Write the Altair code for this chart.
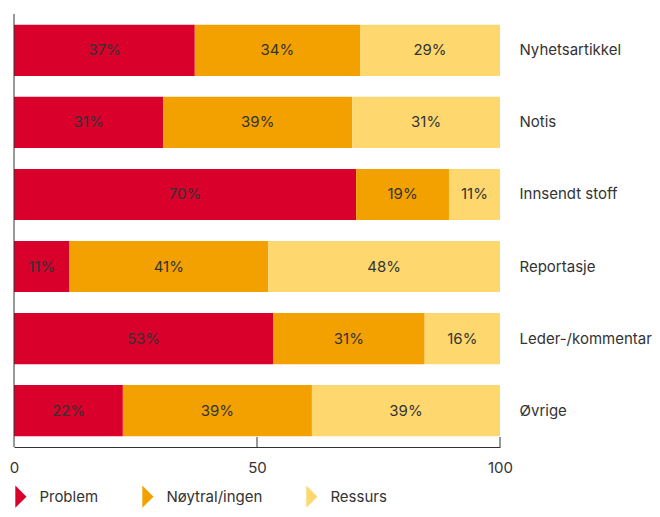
import altair as alt
import pandas as pd

categories = ["Nyhetsartikkel", "Notis", "Innsendt stoff", "Reportasje", "Leder-/kommentar", "Øvrige"]
series = ["Problem", "Nøytral/ingen", "Ressurs"]
problem = [37.2, 30.7, 70.4, 11.4, 53.3, 22.4]
noytral = [34.0, 38.9, 19.1, 40.9, 31.2, 38.9]
ressurs = [28.8, 30.4, 10.5, 47.7, 15.5, 38.7]
labels_problem = ["37%", "31%", "70%", "11%", "53%", "22%"]
labels_noytral = ["34%", "39%", "19%", "41%", "31%", "39%"]
labels_ressurs = ["29%", "31%", "11%", "48%", "16%", "39%"]
x_ticks = [0, 50, 100]
colors = ["#d9002b", "#f2a100", "#fed86f"]

FONT = "Inter"
TXT = "#333333"

rows = []
for i, cat in enumerate(categories):
    start = 0.0
    for s, vals, labs in zip(series, [problem, noytral, ressurs], [labels_problem, labels_noytral, labels_ressurs]):
        end = start + vals[i]
        rows.append({"category": cat, "series": s, "start": start, "end": end,
                     "mid": (start + end) / 2, "label": labs[i]})
        start = end
df = pd.DataFrame(rows)

W, H = 486, 433

xscale = alt.Scale(domain=[0, 100], nice=False, zero=True)
yscale = alt.Scale(paddingInner=0.29, paddingOuter=0.15)
ysort = categories

base = alt.Chart(df)

bars = base.mark_bar(strokeWidth=0).encode(
    x=alt.X("start:Q", scale=xscale,
            axis=alt.Axis(values=x_ticks, ticks=False, grid=False, title=None,
                          domainColor=TXT, domainWidth=1, labelFontSize=15,
                          labelColor=TXT, labelFont=FONT, labelPadding=13,
                          labelFlush=False)),
    x2="end:Q",
    y=alt.Y("category:N", sort=ysort, scale=yscale,
            axis=alt.Axis(orient="right", domain=False, ticks=False, title=None,
                          labelPadding=19, labelFontSize=15, labelColor=TXT,
                          labelFont=FONT, labelAlign="left")),
    color=alt.Color("series:N", scale=alt.Scale(domain=series, range=colors),
                    legend=alt.Legend(orient="none", legendX=-4.6, legendY=471,
                                      direction="horizontal", title=None,
                                      symbolType="M-0.5,-1L0.5,0L-0.5,1Z",
                                      symbolSize=500, symbolStrokeWidth=0,
                                      symbolOpacity=1,
                                      labelFontSize=15, labelColor=TXT,
                                      labelFont=FONT, labelOffset=7,
                                      columnPadding=38)),
)

text = base.mark_text(fontSize=15, color=TXT, font=FONT).encode(
    x=alt.X("mid:Q", scale=xscale),
    y=alt.Y("category:N", sort=ysort, scale=yscale),
    text="label:N",
)

left_line = alt.Chart(pd.DataFrame({"x": [0]})).mark_rule(color=TXT, strokeWidth=1).encode(
    x=alt.X("x:Q", scale=xscale)
)

tick_marks = alt.Chart(pd.DataFrame({"x": x_ticks[1:]})).mark_rule(color=TXT, strokeWidth=1).encode(
    x=alt.X("x:Q", scale=xscale),
    y=alt.value(H - 10),
    y2=alt.value(H),
)

chart = alt.layer(bars, text, left_line, tick_marks).properties(
    width=W, height=H,
    padding={"left": 6, "top": 6, "right": 152, "bottom": 61},
    autosize=alt.AutoSizeParams(type="none"),
).configure_view(stroke=None)

chart.save("out.html", embed_options={"renderer": "svg", "actions": False})
